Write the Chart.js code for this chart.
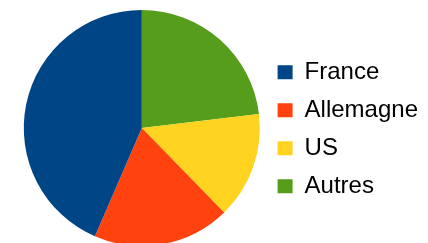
<!DOCTYPE html>
<html>
<head>
<meta charset="utf-8">
<script src="https://cdn.jsdelivr.net/npm/chart.js@4"></script>
<style>
  html, body { margin: 0; padding: 0; background: #fff; overflow: hidden; }
  #wrap { position: relative; width: 428px; height: 256px; }
</style>
</head>
<body>
<div id="wrap"><canvas id="pieChart"></canvas></div>
<script>
// parts, in legend order
const labels = ["France", "Allemagne", "US", "Autres"];
const values = [43.5, 18.8, 14.6, 23.1];
const colors = ["#004586", "#ff420e", "#ffd320", "#579d1c"];

// the original goes counter-clockwise from the top, Chart.js goes clockwise:
// feed the slices reversed and reverse the legend back
const drawLabels = labels.slice().reverse();
const drawValues = values.slice().reverse();
const drawColors = colors.slice().reverse();

const ctx = document.getElementById('pieChart').getContext('2d');

const pieChart = new Chart(ctx, {
    type: 'pie',
    data: {
        labels: drawLabels,
        datasets: [{
            data: drawValues,
            backgroundColor: drawColors,
            borderWidth: 0
        }]
    },
    options: {
        responsive: true,
        maintainAspectRatio: false,
        animation: false,
        layout: {
            padding: { top: 10, bottom: 10, left: 20, right: 0 }
        },
        plugins: {
            tooltip: { enabled: false },
            legend: {
                position: 'right',
                reverse: true,
                // empty tiny title, only nudges the items down a bit
                title: { display: true, text: ' ', padding: 0, font: { size: 2, lineHeight: 1.3 } },
                labels: {
                    boxWidth: 15,
                    boxHeight: 14,
                    padding: 14,
                    color: '#000',
                    font: { family: 'Liberation Sans', size: 24 }
                }
            }
        }
    }
});
</script>
</body>
</html>
